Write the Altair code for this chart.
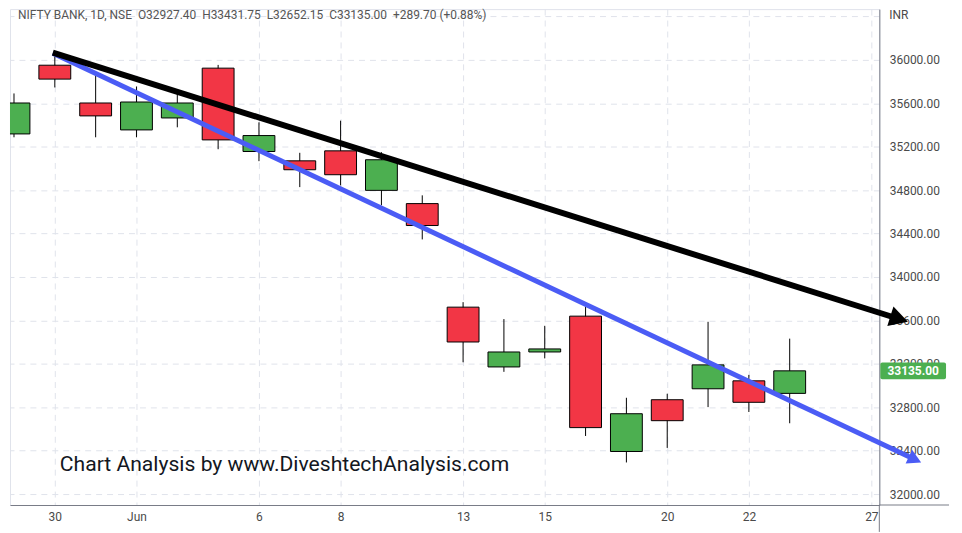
import altair as alt
import pandas as pd

# ---- data (trading-day index, OHLC) ----
idx = list(range(20))
opens = [35318, 35951, 35603, 35355, 35465, 35924, 35156, 35070, 35162, 34798,
         34676, 33722, 33171, 33309, 33639, 32392, 32869, 32970, 33043, 32927.40]
highs = [35691, 36030, 35883, 35755, 35685, 35954, 35425, 35144, 35440, 35150,
         34752, 33768, 33612, 33550, 33728, 32887, 32924, 33587, 33098, 33431.75]
lows = [35287, 35746, 35287, 35287, 35379, 35177, 35067, 34828, 34844, 34661,
        34346, 33214, 33126, 33250, 32535, 32291, 32425, 32801, 32756, 32652.15]
closes = [35603, 35823, 35484, 35612, 35603, 35263, 35303, 34988, 34942, 35080,
          34474, 33401, 33309, 33337, 32612, 32740, 32676, 33190, 32845.30, 33135.00]

label_idx = [1, 3, 6, 8, 11, 13, 16, 18, 21]
label_txt = ["30", "Jun", "6", "8", "13", "15", "20", "22", "27"]
price_ticks = list(range(32000, 36401, 400))

# trend lines (index, price): start and end of the shaft, and arrow tip
black_i = [0.951, 21.663]
black_p = [36067, 33615]
black_tip = (21.895, 33587)
blue_i = [0.951, 22.066]
blue_p = [36061, 32318]
blue_tip = (22.22, 32291)

W, H = 873, 498
X_DOM = [-0.098, 21.195]
Y_DOM = [31899, 36468]

GREEN = "#4CAF50"
RED = "#F23645"
BLUE = "#4B5CF5"
GRID = "#e0e3eb"
AXIS = "#787b86"
TXT = "#4a4a4a"
FONT = "Roboto"
ARROW = "M0,0 L-1.8,-1 L-1.8,1 Z"

df = pd.DataFrame({"i": idx, "open": opens, "high": highs, "low": lows, "close": closes})
df["lo"] = df[["open", "close"]].min(axis=1)
df["hi"] = df[["open", "close"]].max(axis=1)
df["dir"] = ["up" if c >= o else "down" for o, c in zip(opens, closes)]

expr = "".join(f"datum.value == {v} ? '{t}' : " for v, t in zip(label_idx, label_txt)) + "''"

xs = alt.Scale(domain=X_DOM, nice=False, zero=False)
ys = alt.Scale(domain=Y_DOM, nice=False, zero=False)
xaxis = alt.Axis(values=label_idx, labelExpr=expr, grid=True, gridDash=[6, 5], gridColor=GRID,
                 ticks=False, domainColor=AXIS, labelPadding=7, labelFontSize=12, labelColor=TXT,
                 labelFont=FONT, title=None, labelFlush=False, labelOverlap=False)
yaxis = alt.Axis(orient="right", values=price_ticks,
                 labelExpr="datum.value > 36200 ? '' : format(datum.value, '.2f')",
                 grid=True, gridDash=[6, 5], gridColor=GRID, ticks=False, domainColor=AXIS,
                 labelPadding=10, labelFontSize=12, labelColor=TXT, labelFont=FONT, title=None,
                 labelFlush=False, labelOverlap=False)

base = alt.Chart(df)

wicks = base.mark_rule(color="black", strokeWidth=1, clip=True).encode(
    x=alt.X("i:Q", scale=xs, axis=xaxis),
    y=alt.Y("low:Q", scale=ys, axis=yaxis),
    y2="high:Q",
)

bodies = base.transform_calculate(x0="datum.i - 0.39", x1="datum.i + 0.39").mark_bar(
    stroke="black", strokeWidth=1, clip=True
).encode(
    x=alt.X("x0:Q", scale=xs, axis=xaxis),
    x2="x1:Q",
    y=alt.Y("lo:Q", scale=ys, axis=yaxis),
    y2="hi:Q",
    color=alt.Color("dir:N", scale=alt.Scale(domain=["up", "down"], range=[GREEN, RED]), legend=None),
)

def trend(ii, pp, tip, color, width, size, angle):
    d = pd.DataFrame({"i": ii, "p": pp})
    line = alt.Chart(d).mark_line(color=color, strokeWidth=width, strokeCap="butt", clip=False).encode(
        x=alt.X("i:Q", scale=xs, axis=xaxis), y=alt.Y("p:Q", scale=ys, axis=yaxis))
    t = pd.DataFrame({"i": [tip[0]], "p": [tip[1]]})
    head = alt.Chart(t).mark_point(shape=ARROW, filled=True, size=size, strokeWidth=0,
                                   angle=angle, color=color, opacity=1, clip=False).encode(
        x=alt.X("i:Q", scale=xs, axis=xaxis), y=alt.Y("p:Q", scale=ys, axis=yaxis))
    return line + head

blue_line = trend(blue_i, blue_p, blue_tip, BLUE, 5, 230, 25.2)
black_line = trend(black_i, black_p, black_tip, "black", 6, 420, 17.5)

last_close = closes[-1]
prev_close = closes[-2]
chg = last_close - prev_close
header = (f"NIFTY BANK, 1D, NSE  O{opens[-1]:.2f}  H{highs[-1]:.2f}  L{lows[-1]:.2f}  "
          f"C{last_close:.2f}  {chg:+.2f} ({chg / prev_close * 100:+.2f}%)").replace("  ", " \u00a0")

head_txt = alt.Chart(pd.DataFrame({"t": [header]})).mark_text(
    align="left", baseline="middle", font=FONT, fontSize=12, color="#555555"
).encode(x=alt.value(8), y=alt.value(6), text="t:N")

inr_txt = alt.Chart(pd.DataFrame({"t": ["INR"]})).mark_text(
    align="left", baseline="middle", font=FONT, fontSize=12, color=TXT
).encode(x=alt.value(W + 10), y=alt.value(6), text="t:N")

wm = alt.Chart(pd.DataFrame({"t": ["Chart Analysis by www.DiveshtechAnalysis.com"]})).mark_text(
    align="left", baseline="middle", font=FONT, fontSize=21.2, color="#131722"
).encode(x=alt.value(50), y=alt.value(458), text="t:N")

box_half = 78
price_box = alt.Chart(pd.DataFrame({"a": [last_close + box_half], "b": [last_close - box_half]})).mark_rect(
    color=GREEN, clip=False, cornerRadius=2
).encode(x=alt.value(W + 1), x2=alt.value(W + 67),
         y=alt.Y("a:Q", scale=ys, axis=yaxis), y2="b:Q")
price_lbl = alt.Chart(pd.DataFrame({"p": [last_close], "t": [f"{last_close:.2f}"]})).mark_text(
    align="center", baseline="middle", font=FONT, fontSize=12, fontWeight="bold", color="white", clip=False
).encode(x=alt.value(W + 34), y=alt.Y("p:Q", scale=ys, axis=yaxis), text="t:N")

ext1 = alt.Chart(pd.DataFrame({"a": [0]})).mark_rule(color=AXIS, strokeWidth=1).encode(
    x=alt.value(W), y=alt.value(H), y2=alt.value(H + 27))
ext2 = alt.Chart(pd.DataFrame({"a": [0]})).mark_rule(color=AXIS, strokeWidth=1).encode(
    x=alt.value(W), x2=alt.value(W + 70), y=alt.value(H))

chart = alt.layer(
    wicks, bodies, blue_line, black_line, price_box, price_lbl, head_txt, inr_txt, wm, ext1, ext2
).properties(
    width=W, height=H, padding={"left": 2, "top": 0, "right": 75, "bottom": 27}, background="white",
    autosize=alt.AutoSizeParams(type="none")
).configure_view(stroke=GRID)

chart.save("out.html", embed_options={"renderer": "svg", "actions": False})
